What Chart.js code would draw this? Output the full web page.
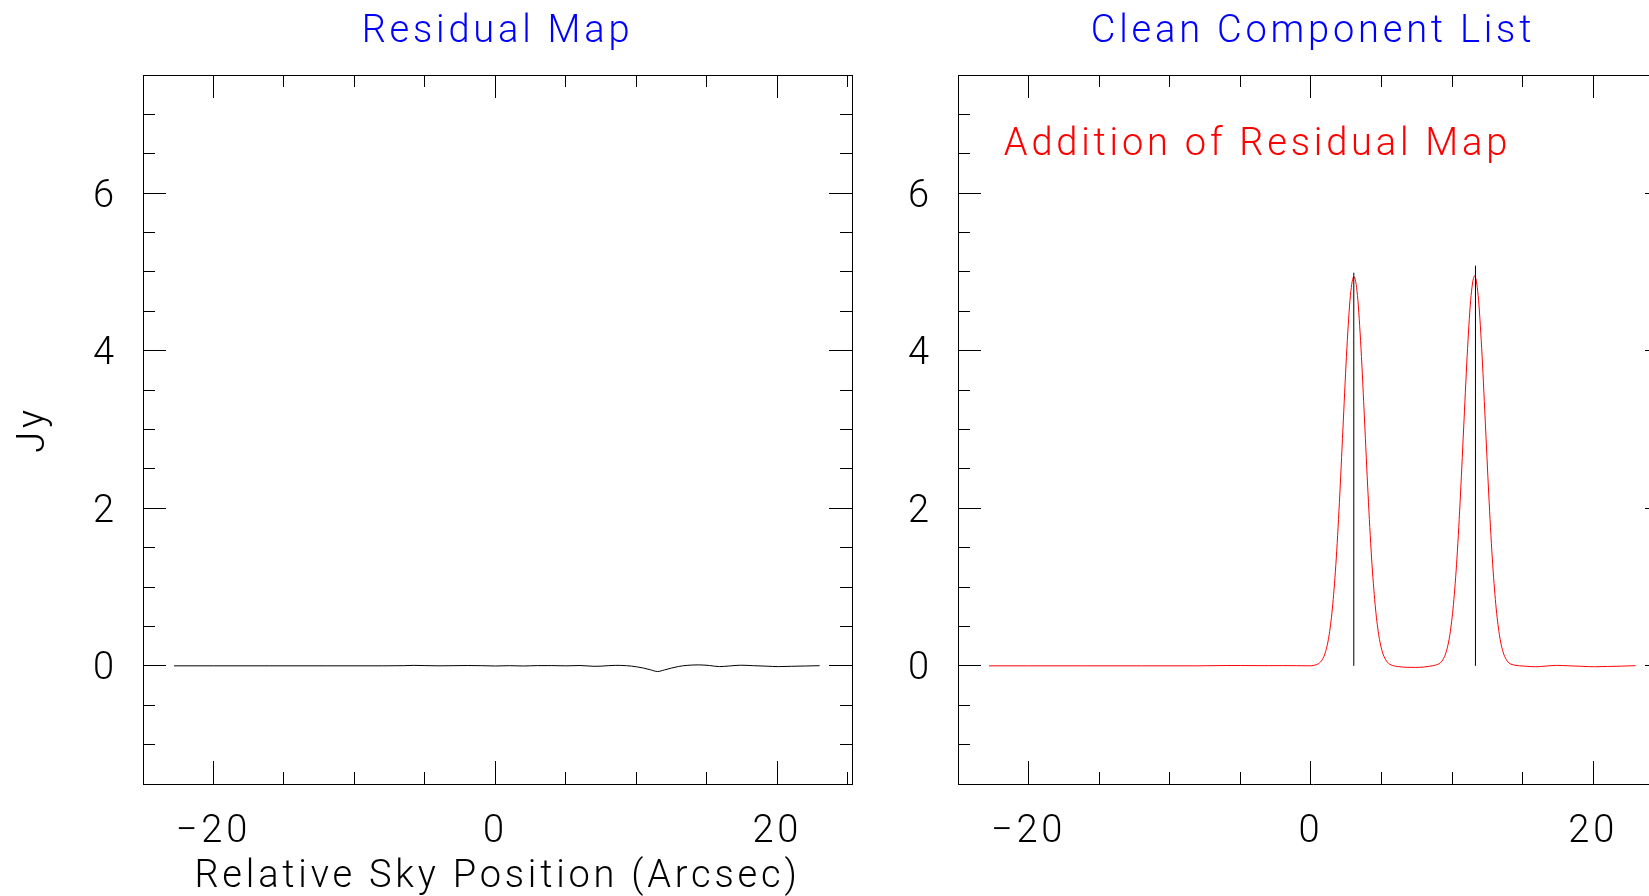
<!DOCTYPE html>
<html>
<head>
<meta charset="utf-8">
<script src="https://cdn.jsdelivr.net/npm/chart.js@4"></script>
<style>
html,body{margin:0;padding:0;background:#fff;overflow:hidden;width:1649px;height:896px;position:relative}
canvas{position:absolute;top:0}
</style>
</head>
<body>
<canvas id="left" width="870" height="896" style="left:0px"></canvas>
<canvas id="right" width="850" height="896" style="left:870px"></canvas>
<script>
// ---------------- data ----------------
const panelTitles = ['Residual Map', 'Clean Component List'];
const xAxisTitle = 'Relative Sky Position (Arcsec)';
const yAxisTitle = 'Jy';
const noteText = 'Addition of Residual Map';

// residual map profile (Jy) vs relative sky position (arcsec)
const resX = [-22.8, -20, -16, -12, -8, -6.5, -5.8, -5, -4, -3, -2, -1, 0, 1, 2, 3, 4, 5, 6, 7, 7.5, 8.5, 9.3, 10, 10.5, 11, 11.5, 12, 12.5, 13, 13.6, 14.4, 15.2, 15.9, 16.6, 17.4, 18.3, 19.2, 20.1, 21, 22, 23];
const resY = [0, 0, 0, 0, 0, 0.002, 0.006, 0.003, 0, 0.002, 0.004, 0.002, -0.002, 0.002, -0.002, 0.003, 0.003, 0, 0.004, -0.006, -0.004, 0.006, 0.002, -0.012, -0.028, -0.05, -0.072, -0.052, -0.028, -0.008, 0.006, 0.012, 0.004, -0.01, -0.002, 0.008, 0.002, -0.004, -0.01, -0.006, -0.002, 0.002];

// clean map (components restored + residual) profile
const cleanX = [-22.8, -20, -16, -12, -8, -6, -5, -3, -2, -1, 0, 0.3, 0.55, 0.8, 1.05, 1.3, 1.55, 1.8, 2.05, 2.3, 2.55, 2.8, 3.05, 3.3, 3.55, 3.8, 4.05, 4.3, 4.55, 4.8, 5.05, 5.3, 5.55, 5.8, 6.2, 6.8, 7.4, 8.0, 8.4, 8.85, 9.1, 9.35, 9.6, 9.85, 10.1, 10.35, 10.6, 10.85, 11.1, 11.35, 11.6, 11.85, 12.1, 12.35, 12.6, 12.85, 13.1, 13.35, 13.6, 13.85, 14.1, 14.4, 14.8, 15.3, 15.9, 16.6, 17.4, 18.3, 19.2, 20.1, 21, 22, 23];
const cleanY = [0, 0, 0, 0, 0, 0.004, 0.004, 0.002, 0.003, 0.002, 0.0, 0.01, 0.029, 0.077, 0.185, 0.40, 0.78, 1.37, 2.18, 3.12, 4.03, 4.70, 4.94, 4.70, 4.03, 3.12, 2.18, 1.37, 0.78, 0.40, 0.185, 0.077, 0.025, 0.004, -0.01, -0.018, -0.02, -0.015, -0.005, 0.01, 0.029, 0.077, 0.185, 0.40, 0.78, 1.37, 2.18, 3.12, 4.03, 4.70, 4.95, 4.70, 4.03, 3.12, 2.18, 1.37, 0.78, 0.40, 0.185, 0.077, 0.029, 0.01, 0.0, -0.006, -0.012, -0.004, 0.006, 0.0, -0.006, -0.012, -0.008, -0.004, 0.002];

// clean components (position, flux)
const ccX = [3.04, 11.66];
const ccFlux = [4.99, 5.08];

// axes
const xRange = [-25, 25.3];
const yRange = [-1.5, 7.5];
const xMajorTicks = [-20, 0, 20];
const xMinorTicks = [-25, -15, -10, -5, 5, 10, 15, 25];
const yMajorTicks = [0, 2, 4, 6];
const yMinorTicks = [-1, -0.5, 0.5, 1, 1.5, 2.5, 3, 3.5, 4.5, 5, 5.5, 6.5, 7];
const noteAt = [-21.75, 6.61];

// ---------------- style ----------------
const FAMILY = 'Roboto';
const FONT = {family: FAMILY, size: 38, weight: '300', lineHeight: 1.2};
const SPACING = '3.8px';
const MAJOR_LEN = 23, MINOR_LEN = 12;
const fmt = v => (v < 0 ? '\u2212' + Math.abs(v) : String(v));

const spacingPlugin = {
  id: 'spacing',
  beforeUpdate(c) { c.ctx.letterSpacing = SPACING; },
  beforeDraw(c) { c.ctx.letterSpacing = SPACING; }
};
const notePlugin = {
  id: 'note',
  afterDatasetsDraw(c, args, o) {
    if (!o || !o.text) return;
    const ctx = c.ctx;
    ctx.save();
    ctx.letterSpacing = SPACING;
    ctx.font = `${FONT.weight} ${FONT.size}px ${FAMILY}`;
    ctx.fillStyle = o.color;
    ctx.textAlign = 'left';
    ctx.textBaseline = 'middle';
    ctx.fillText(o.text, c.scales.x.getPixelForValue(o.at[0]), c.scales.y.getPixelForValue(o.at[1]));
    ctx.restore();
  }
};

function tickOnly(position, range, values, len, border) {
  const horiz = position === 'top' || position === 'bottom';
  return {
    type: 'linear', position, min: range[0], max: range[1], weight: 0,
    afterBuildTicks: s => { s.ticks = values.map(v => ({value: v})); },
    ticks: {display: false},
    grid: {drawOnChartArea: false, drawTicks: true, tickLength: -len, tickColor: '#000', tickWidth: 1},
    border: {display: border, color: '#000', width: 1},
    afterFit: s => { if (horiz) s.height = 0; else s.width = 0; }
  };
}

function makePanel(id, cfg) {
  const scales = {
    x: {
      type: 'linear', position: 'bottom', min: xRange[0], max: xRange[1], weight: 1,
      afterBuildTicks: s => { s.ticks = xMajorTicks.map(v => ({value: v})); },
      ticks: {display: true, autoSkip: false, maxRotation: 0, minRotation: 0, padding: 49,
              color: '#000', font: FONT, callback: v => fmt(v)},
      grid: {drawOnChartArea: false, drawTicks: true, tickLength: -MAJOR_LEN, tickColor: '#000', tickWidth: 1},
      border: {display: true, color: '#000', width: 1},
      title: {display: !!cfg.xTitle, text: cfg.xTitle || '', color: '#000', font: FONT, padding: {top: 0, bottom: -4}},
      afterFit: s => { s.height = 112; }
    },
    xm: tickOnly('bottom', xRange, xMinorTicks, MINOR_LEN, false),
    xt: tickOnly('top', xRange, xMajorTicks, MAJOR_LEN, true),
    xtm: tickOnly('top', xRange, xMinorTicks, MINOR_LEN, false),
    y: {
      type: 'linear', position: 'left', min: yRange[0], max: yRange[1], weight: 1,
      afterBuildTicks: s => { s.ticks = yMajorTicks.map(v => ({value: v})); },
      ticks: {display: true, autoSkip: false, padding: 48, labelOffset: 4, color: '#000', font: FONT, callback: v => fmt(v)},
      grid: {drawOnChartArea: false, drawTicks: true, tickLength: -MAJOR_LEN, tickColor: '#000', tickWidth: 1},
      border: {display: true, color: '#000', width: 1},
      title: {display: !!cfg.yTitle, text: cfg.yTitle || '', color: '#000', font: FONT, padding: {top: 12, bottom: 0}},
      afterFit: s => { s.width = cfg.leftW; }
    },
    ym: tickOnly('left', yRange, yMinorTicks, MINOR_LEN, false),
    yr: tickOnly('right', yRange, yMajorTicks, MAJOR_LEN, true),
    yrm: tickOnly('right', yRange, yMinorTicks, MINOR_LEN, false)
  };
  return new Chart(document.getElementById(id), {
    type: 'line',
    data: {datasets: cfg.datasets},
    options: {
      responsive: false, animation: false, devicePixelRatio: 1, events: [],
      layout: {padding: {left: 0, top: 0, right: cfg.rightPad, bottom: 0}},
      elements: {point: {radius: 0}},
      plugins: {
        legend: {display: false},
        tooltip: {enabled: false},
        title: {display: true, text: cfg.title, color: '#0000ff', font: FONT, fullSize: false,
                padding: {top: 10, bottom: 19.4}},
        note: cfg.note || {}
      },
      scales
    },
    plugins: [spacingPlugin, notePlugin]
  });
}

const pts = (xs, ys) => xs.map((x, i) => ({x, y: ys[i]}));
const ccPts = [];
ccX.forEach((x, i) => { ccPts.push({x, y: 0}, {x, y: ccFlux[i]}, {x, y: null}); });

makePanel('left', {
  title: panelTitles[0], xTitle: xAxisTitle, yTitle: yAxisTitle, leftW: 143, rightPad: 18,
  datasets: [{label: 'Residual', data: pts(resX, resY), borderColor: '#000', borderWidth: 1,
              cubicInterpolationMode: 'monotone', fill: false}]
});

makePanel('right', {
  title: panelTitles[1], leftW: 88, rightPad: 52,
  note: {text: noteText, color: '#ff0000', at: noteAt},
  datasets: [
    {label: 'Clean components', data: ccPts, borderColor: '#000', borderWidth: 1, spanGaps: false, fill: false},
    {label: noteText, data: pts(cleanX, cleanY), borderColor: '#ff0000', borderWidth: 1,
     cubicInterpolationMode: 'monotone', fill: false}
  ]
});
</script>
</body>
</html>
